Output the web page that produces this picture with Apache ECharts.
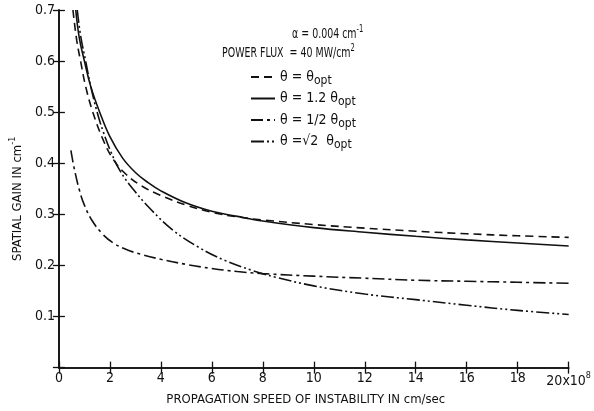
<!DOCTYPE html>
<html>
<head>
<meta charset="utf-8">
<script src="https://cdn.jsdelivr.net/npm/echarts@6/dist/echarts.min.js"></script>
<style>
  html, body { margin: 0; padding: 0; background: #fff; }
  #chart { width: 594px; height: 411px; }
</style>
</head>
<body>
<div id="chart"></div>
<script>
// values: [speed (1e8 cm/sec), spatial gain (cm^-1)]
const thetaOpt = [
  [0.55, 0.70], [0.7, 0.64], [0.85, 0.6], [1.05, 0.55], [1.33, 0.5], [1.7, 0.45],
  [2.1, 0.41], [2.6, 0.38], [3.2, 0.357], [4.0, 0.337], [5.0, 0.318], [6.0, 0.304],
  [7.0, 0.295], [8.0, 0.289], [10, 0.28], [12, 0.273], [14, 0.267], [16, 0.262], [18, 0.258], [20, 0.255]
];
const theta12 = [
  [0.66, 0.70], [0.8, 0.645], [1.0, 0.6], [1.25, 0.55], [1.6, 0.5], [2.0, 0.452],
  [2.5, 0.41], [3.0, 0.382], [3.5, 0.362], [4.0, 0.346], [5.0, 0.322], [6.0, 0.306],
  [7.0, 0.296], [8.0, 0.287], [10, 0.274], [12, 0.265], [14, 0.257], [16, 0.25], [18, 0.244], [20, 0.238]
];
const thetaHalf = [
  [0.47, 0.425], [0.6, 0.39], [0.8, 0.348], [1.0, 0.318], [1.3, 0.288], [1.7, 0.262],
  [2.1, 0.245], [2.6, 0.232], [3.2, 0.222], [4.0, 0.212], [5.0, 0.202], [6.0, 0.194],
  [7.0, 0.188], [8.0, 0.184], [10, 0.179], [12, 0.175], [14, 0.171], [16, 0.169], [18, 0.167], [20, 0.165]
];
const thetaRoot2 = [
  [0.72, 0.70], [0.85, 0.65], [1.05, 0.6], [1.25, 0.55], [1.5, 0.5], [1.75, 0.46],
  [2.0, 0.427], [2.4, 0.385], [2.9, 0.35], [3.6, 0.31], [4.5, 0.268], [5.5, 0.235],
  [6.5, 0.21], [7.6, 0.19], [8.5, 0.177], [10, 0.16], [12, 0.144], [14, 0.133], [16, 0.122], [18, 0.112], [20, 0.104]
];

const seriesNames = ['θ = θopt', 'θ = 1.2 θopt', 'θ = 1/2 θopt', 'θ =√2  θopt'];
const xTicks = [0, 2, 4, 6, 8, 10, 12, 14, 16, 18, 20];
const yTicks = [0.1, 0.2, 0.3, 0.4, 0.5, 0.6, 0.7];

const FONT = 'DejaVu Sans Condensed';
const INK = '#111';

const chart = echarts.init(document.getElementById('chart'), null, { renderer: 'canvas' });

function curve(name, data, dash) {
  return {
    name,
    type: 'line',
    data,
    smooth: 0.4,
    showSymbol: false,
    symbol: 'none',
    clip: true,
    lineStyle: { color: INK, width: 1.6, type: dash },
    itemStyle: { color: INK },
    z: 3
  };
}

const tickAxisCommon = {
  axisLine: { show: true, lineStyle: { color: INK, width: 1.6 } },
  axisTick: { show: true, inside: true, length: 6, lineStyle: { color: INK, width: 1.3 } },
  splitLine: { show: false }
};

const supStyle = { fontFamily: FONT, fontSize: 9, color: INK, padding: [0, 0, 10, 0] };

// header text is drawn narrow, as in the original lettering
function header(x, y, text) {
  return {
    type: 'text', x, y, scaleX: 0.75,
    style: {
      text, fontFamily: FONT, fontSize: 14, fill: INK,
      rich: { sup: { fontFamily: FONT, fontSize: 10, fill: INK, padding: [0, 0, 10, 0] } }
    }
  };
}

chart.setOption({
  backgroundColor: '#fff',
  animation: false,
  grid: { left: 53, right: 25, top: 10, bottom: 37 },
  xAxis: [
    Object.assign({
      type: 'value', min: 0, max: 20, interval: 2, position: 'bottom',
      name: 'PROPAGATION SPEED OF INSTABILITY IN cm/sec',
      nameLocation: 'middle', nameGap: 22,
      nameTextStyle: { fontFamily: FONT, fontSize: 13, color: INK, padding: [0, 16, 0, 0] },
      axisLabel: {
        color: INK, fontFamily: FONT, fontSize: 14, margin: 4,
        formatter: v => xTicks.includes(v) ? (v === 20 ? '{n|20x10}{sup|8}' : String(v)) : '',
        rich: {
          n: { fontFamily: FONT, fontSize: 14, color: INK },
          sup: supStyle
        }
      }
    }, tickAxisCommon),
    Object.assign({
      type: 'value', min: 0, max: 20, interval: 2, position: 'top',
      axisLabel: { show: false }
    }, tickAxisCommon)
  ],
  yAxis: [
    Object.assign({
      type: 'value', min: 0, max: 0.7, interval: 0.1, position: 'left',
      name: 'SPATIAL GAIN IN {u|cm}{sup|-1}',
      nameLocation: 'middle', nameGap: 27, nameRotate: 90,
      nameTextStyle: {
        fontFamily: FONT, fontSize: 13, color: INK, padding: [0, 20, 0, 0],
        rich: {
          u: { fontFamily: FONT, fontSize: 13, color: INK },
          sup: supStyle
        }
      },
      axisLabel: {
        color: INK, fontFamily: FONT, fontSize: 14, margin: 4,
        formatter: v => {
          const r = Math.round(v * 10) / 10;
          return yTicks.includes(r) ? r.toFixed(1) : '';
        }
      }
    }, tickAxisCommon),
    Object.assign({
      type: 'value', min: 0, max: 0.7, interval: 0.1, position: 'right',
      axisLabel: { show: false }
    }, tickAxisCommon)
  ],
  legend: {
    orient: 'vertical',
    left: 245,
    top: 65,
    itemWidth: 24,
    itemHeight: 14,
    itemGap: 5,
    data: seriesNames,
    itemStyle: { opacity: 0 },
    formatter: name => name.replace('opt', '{s|opt}'),
    textStyle: {
      fontFamily: FONT, fontSize: 14, color: INK,
      rich: {
        s: { fontFamily: FONT, fontSize: 12, color: INK, padding: [7, 0, 0, 0] }
      }
    },
    selectedMode: false
  },
  graphic: [
    header(292, 24, 'α = 0.004 cm{sup|-1}'),
    header(222, 43, 'POWER FLUX  = 40 MW/cm{sup|2}')
  ],
  series: [
    curve(seriesNames[0], thetaOpt, [8, 5]),
    curve(seriesNames[1], theta12, 'solid'),
    curve(seriesNames[2], thetaHalf, [12, 4, 3, 4]),
    curve(seriesNames[3], thetaRoot2, [13, 3, 2, 3, 2, 3])
  ]
});
</script>
</body>
</html>
